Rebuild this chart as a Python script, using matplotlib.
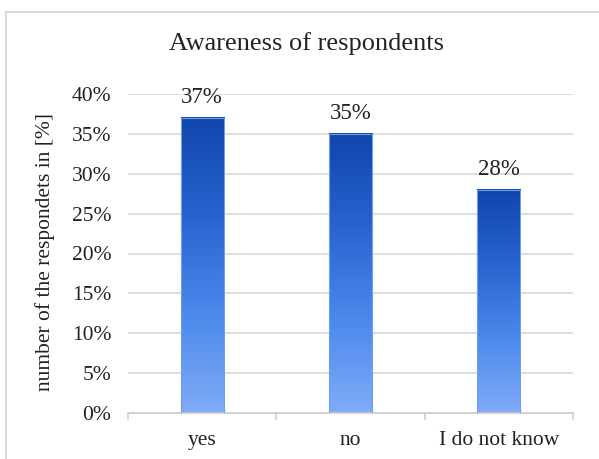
import numpy as np
import matplotlib
matplotlib.use("Agg")
import matplotlib.pyplot as plt
from matplotlib.colors import LinearSegmentedColormap
from matplotlib.lines import Line2D

categories = ["yes", "no", "I do not know"]
values = [37, 35, 28]
yticks = [0, 5, 10, 15, 20, 25, 30, 35, 40]

plt.rcParams["font.family"] = ["Liberation Serif", "DejaVu Serif"]

W, H = 599, 459
fig = plt.figure(figsize=(W / 100, H / 100), dpi=100)
# plot area in pixels: x 128..573, y 94..413
ax = fig.add_axes([128 / W, (H - 413) / H, (573 - 128) / W, (413 - 94) / H])

# bar gradient: light at the bottom, dark at the top
cmap = LinearSegmentedColormap.from_list("bluegrad", ["#80abf7", "#4b89ec", "#2a63cf", "#0e46ac"])
grad = np.linspace(0, 1, 256).reshape(-1, 1)

x = np.arange(len(categories))
bw = 0.29
for xi, v in zip(x, values):
    ax.imshow(grad, cmap=cmap, origin="lower", aspect="auto",
              extent=[xi - bw / 2, xi + bw / 2, 0, v], zorder=2)
    ax.add_patch(plt.Rectangle((xi - bw / 2, 0), bw, v, fill=False,
                               edgecolor="#6f9ef0", linewidth=0.8, zorder=3))
    ax.text(xi, v + 2.5, f"{v}%", ha="center", va="center", fontsize=16.5, color="#222222")

ax.set_xlim(-0.5, len(categories) - 0.5)
ax.set_ylim(0, 40)
ax.set_yticks(yticks)
ax.set_yticklabels([f"{t}%" for t in yticks], fontsize=15.5, color="#222222")
ax.set_xticks(x)
ax.set_xticklabels(categories, fontsize=15.5, color="#222222")
ax.tick_params(axis="y", length=0, pad=12)
ax.tick_params(axis="x", length=0, pad=13)

# category separators on the x axis
ax.set_xticks(np.arange(-0.5, len(categories)), minor=True)
ax.tick_params(axis="x", which="minor", length=5, color="#cfcfcf", width=1.2)

for t in yticks[1:]:
    ax.axhline(t, color="#dedede", linewidth=1.4, zorder=1)

for s in ["top", "right", "left"]:
    ax.spines[s].set_visible(False)
ax.spines["bottom"].set_color("#cfcfcf")
ax.spines["bottom"].set_linewidth(1.3)

fig.text(45 / W, 1 - 252 / H, "number of the respondets in [%]", rotation=90,
         ha="center", va="center", fontsize=15.5, color="#222222")
fig.text(307 / W, 1 - 44 / H, "Awareness of respondents", ha="center", va="center",
         fontsize=19, color="#222222")

# outer chart frame (top and left edges visible)
fig.add_artist(Line2D([6 / W, 1.0], [1 - 12 / H, 1 - 12 / H], color="#d9d9d9", linewidth=1.5))
fig.add_artist(Line2D([6 / W, 6 / W], [0.0, 1 - 12 / H], color="#d9d9d9", linewidth=1.5))

fig.savefig("out.png", dpi=100, facecolor="white")
